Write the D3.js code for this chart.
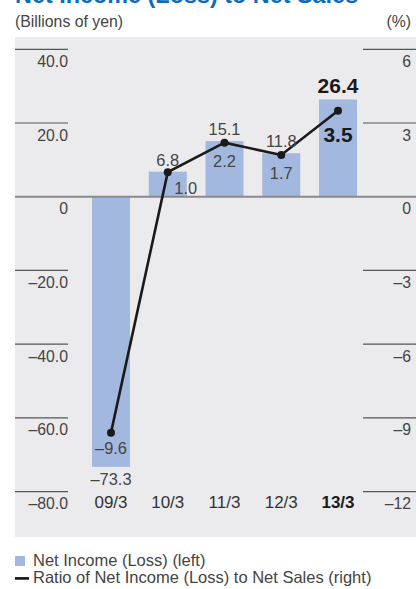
<!DOCTYPE html>
<html>
<head>
<meta charset="utf-8">
<script src="https://cdn.jsdelivr.net/npm/d3@7"></script>
<style>
  html, body { margin: 0; padding: 0; background: #fff; }
  svg { display: block; font-family: "Liberation Sans", Arial, Helvetica, sans-serif; }
</style>
</head>
<body>
<svg id="chart" width="416" height="589"></svg>
<script>
// Fiscal years (ending March)
const categories = ["09/3", "10/3", "11/3", "12/3", "13/3"];
// Net income (loss), billions of yen
const netIncome = [-73.3, 6.8, 15.1, 11.8, 26.4];
// Ratio of net income (loss) to net sales, %
const ratio = [-9.6, 1.0, 2.2, 1.7, 3.5];
// Axis ticks
const leftTicks = [40, 20, 0, -20, -40, -60, -80];
const leftTickLabels = ["40.0", "20.0", "0", "\u201320.0", "\u201340.0", "\u201360.0", "\u201380.0"];
const rightTicks = [6, 3, 0, -3, -6, -9, -12];
const rightTickLabels = ["6", "3", "0", "\u20133", "\u20136", "\u20139", "\u201312"];

const svg = d3.select("#chart");
const barColor = "#a3b8df";
const textColor = "#444";
const axisFont = 15.8;

// Title (runs past the top edge)
svg.append("text")
  .attr("x", 15).attr("y", 3)
  .attr("fill", "#0a6cc0")
  .attr("font-size", 23.4).attr("font-weight", "bold")
  .text("Net Income (Loss) to Net Sales");

svg.append("text")
  .attr("x", 15).attr("y", 27)
  .attr("fill", textColor).attr("font-size", axisFont)
  .text("(Billions of yen)");
svg.append("text")
  .attr("x", 411).attr("y", 27).attr("text-anchor", "end")
  .attr("fill", textColor).attr("font-size", axisFont)
  .text("(%)");

// Plot background
svg.append("rect")
  .attr("x", 15).attr("y", 37).attr("width", 401).attr("height", 500)
  .attr("fill", "#ebebee");

const yL = d3.scaleLinear().domain([-80, 40]).range([491.6, 49.3]);
const yR = d3.scaleLinear().domain([-12, 6]).range([491.6, 49.3]);
const step = 56.75;
const x = d3.scaleBand().domain(categories)
  .range([111 - step / 2, 338 + step / 2])
  .paddingInner(0.33).paddingOuter(0.165);
const cx = c => x(c) + x.bandwidth() / 2;

// Left axis: short rules with labels beneath
const gL = svg.append("g");
leftTicks.forEach((t, i) => {
  if (t !== 0) {
    gL.append("line")
      .attr("x1", 15).attr("x2", 68)
      .attr("y1", yL(t)).attr("y2", yL(t))
      .attr("stroke", "#555").attr("stroke-width", 1.2);
  }
  gL.append("text")
    .attr("x", 68).attr("y", yL(t) + 17.5)
    .attr("text-anchor", "end")
    .attr("fill", textColor).attr("font-size", axisFont)
    .text(leftTickLabels[i]);
});

// Right axis
const gR = svg.append("g");
rightTicks.forEach((t, i) => {
  if (t !== 0) {
    gR.append("line")
      .attr("x1", 363).attr("x2", 416)
      .attr("y1", yR(t)).attr("y2", yR(t))
      .attr("stroke", "#555").attr("stroke-width", 1.2);
  }
  gR.append("text")
    .attr("x", 411).attr("y", yR(t) + 17.5)
    .attr("text-anchor", "end")
    .attr("fill", textColor).attr("font-size", axisFont)
    .text(rightTickLabels[i]);
});

// Bars
svg.append("g").selectAll("rect")
  .data(netIncome)
  .join("rect")
  .attr("x", (d, i) => x(categories[i]))
  .attr("width", x.bandwidth())
  .attr("y", d => Math.min(yL(d), yL(0)))
  .attr("height", d => Math.abs(yL(d) - yL(0)))
  .attr("fill", barColor);

// Zero line
svg.append("line")
  .attr("x1", 15).attr("x2", 416)
  .attr("y1", yL(0)).attr("y2", yL(0))
  .attr("stroke", "#8a8a8c").attr("stroke-width", 2);

const last = categories.length - 1;

// Category labels
svg.append("g").selectAll("text")
  .data(categories)
  .join("text")
  .attr("x", d => cx(d))
  .attr("y", 508)
  .attr("text-anchor", "middle")
  .attr("fill", (d, i) => i === last ? "#1a1a1a" : "#333")
  .attr("font-size", 17)
  .attr("font-weight", (d, i) => i === last ? "bold" : "normal")
  .text(d => d);

// Ratio line
const line = d3.line()
  .x((d, i) => cx(categories[i]))
  .y(d => yR(d));
svg.append("path")
  .datum(ratio)
  .attr("d", line)
  .attr("fill", "none")
  .attr("stroke", "#1a1a1a").attr("stroke-width", 2.6);
svg.append("g").selectAll("circle")
  .data(ratio)
  .join("circle")
  .attr("cx", (d, i) => cx(categories[i]))
  .attr("cy", d => yR(d))
  .attr("r", 4)
  .attr("fill", "#1a1a1a");

const fmtNeg = v => (v < 0 ? "\u2013" + Math.abs(v).toFixed(1) : v.toFixed(1));

// Net income labels
netIncome.forEach((v, i) => {
  const isLast = i === last;
  const yy = v >= 0 ? yL(v) - 6 : yL(v) + 18;
  svg.append("text")
    .attr("x", cx(categories[i]))
    .attr("y", yy)
    .attr("text-anchor", "middle")
    .attr("fill", isLast ? "#1a1a1a" : textColor)
    .attr("font-size", isLast ? 21 : 16.4)
    .attr("font-weight", isLast ? "bold" : "normal")
    .text(fmtNeg(v));
});

// Ratio labels
const ratioOffsets = [[0, 21], [18, 22], [0, 24], [0, 24], [0, 31]];
ratio.forEach((v, i) => {
  const isLast = i === last;
  svg.append("text")
    .attr("x", cx(categories[i]) + ratioOffsets[i][0])
    .attr("y", yR(v) + ratioOffsets[i][1])
    .attr("text-anchor", "middle")
    .attr("fill", isLast ? "#1a1a1a" : textColor)
    .attr("font-size", isLast ? 21 : 16.4)
    .attr("font-weight", isLast ? "bold" : "normal")
    .text(fmtNeg(v));
});

// Legend
svg.append("rect")
  .attr("x", 15).attr("y", 556).attr("width", 10).attr("height", 10)
  .attr("fill", barColor);
svg.append("text")
  .attr("x", 33).attr("y", 566)
  .attr("fill", textColor).attr("font-size", 16.5)
  .text("Net Income (Loss) (left)");
svg.append("line")
  .attr("x1", 15).attr("x2", 29).attr("y1", 578.4).attr("y2", 578.4)
  .attr("stroke", "#1a1a1a").attr("stroke-width", 2.7);
svg.append("text")
  .attr("x", 33).attr("y", 582.5)
  .attr("fill", textColor).attr("font-size", 16.5)
  .text("Ratio of Net Income (Loss) to Net Sales (right)");
</script>
</body>
</html>
